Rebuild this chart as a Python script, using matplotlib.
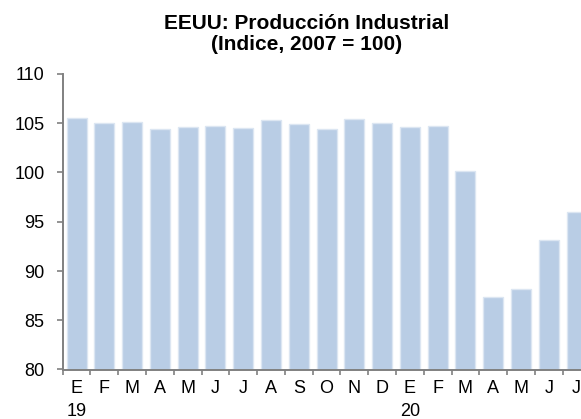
import matplotlib
matplotlib.use("Agg")
import matplotlib.pyplot as plt
import numpy as np

months = ["E", "F", "M", "A", "M", "J", "J", "A", "S", "O", "N", "D",
          "E", "F", "M", "A", "M", "J", "J"]
years = ["19", "", "", "", "", "", "", "", "", "", "", "",
         "20", "", "", "", "", "", ""]
values = [105.5, 105.0, 105.1, 104.4, 104.65, 104.7, 104.5, 105.3, 104.9,
          104.45, 105.4, 105.07, 104.6, 104.7, 100.2, 87.4, 88.15, 93.15, 95.95]

plt.rcParams['font.family'] = ['Liberation Sans', 'DejaVu Sans']

W, H = 581, 419
fig = plt.figure(figsize=(W / 100, H / 100), dpi=100)
left_px, right_px, top_px, bottom_px = 62.7, 590.5, 74, 369.5
ax = fig.add_axes([left_px / W, 1 - bottom_px / H,
                   (right_px - left_px) / W, (bottom_px - top_px) / H])

x = np.arange(len(values))
ax.bar(x, values, width=0.72, color="#b9cde5", edgecolor="#dce6f2",
       linewidth=1, zorder=2)

ax.set_ylim(80, 110)
ax.set_xlim(-0.5, len(values) - 0.5)
ax.set_yticks(np.arange(80, 111, 5))
ax.tick_params(axis='y', labelsize=13, length=4.5, width=1.2,
               color="#808080", pad=8.5)

ax.set_xticks(np.arange(-0.5, len(values), 1.0))
ax.set_xticklabels([])
ax.tick_params(axis='x', which='major', length=3.5, width=1.2,
               color="#808080", direction='out')
ax.set_xticks(x, minor=True)
ax.set_xticklabels([m + "\n" + (y if y else " ") for m, y in zip(months, years)],
                   minor=True, fontsize=13, linespacing=1.45)
ax.tick_params(axis='x', which='minor', length=0, pad=7.5)

for s in ["top", "right"]:
    ax.spines[s].set_visible(False)
for s in ["left", "bottom"]:
    ax.spines[s].set_color("#808080")
    ax.spines[s].set_linewidth(1.4)

fig.text(307 / W, 1 - 34 / H, "EEUU: Producción Industrial\n(Indice, 2007 = 100)",
         ha="center", va="center", fontsize=15, fontweight="bold",
         linespacing=1.1)

fig.savefig("out.png", dpi=100)
